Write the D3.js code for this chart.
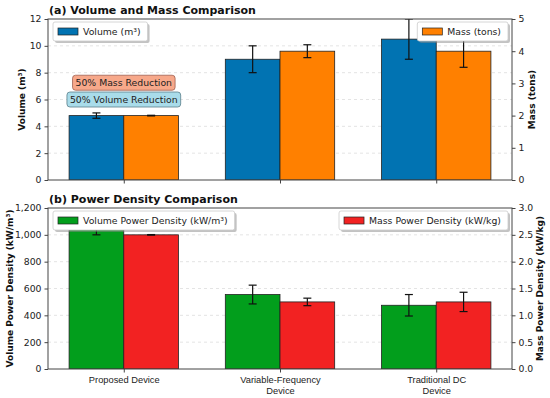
<!DOCTYPE html>
<html>
<head>
<meta charset="utf-8">
<script src="https://cdn.jsdelivr.net/npm/d3@7"></script>
<style>
  body { margin: 0; background: #fff; }
  svg { font-family: "DejaVu Sans", sans-serif; }
</style>
</head>
<body>
<svg width="550" height="398"></svg>
<script>
// data
const categories = [["Proposed Device"], ["Variable-Frequency", "Device"], ["Traditional DC", "Device"]];
const volume = [4.8, 9.0, 10.5];
const volumeErr = [0.2, 1.0, 1.5];
const mass = [2.0, 4.0, 4.0];
const massErr = [0.01, 0.2, 0.5];
const volPower = [1050, 555, 475];
const volPowerErr = [50, 70, 80];
const massPower = [2.5, 1.25, 1.25];
const massPowerErr = [0.005, 0.07, 0.18];
const leftTicksA = [0, 2, 4, 6, 8, 10, 12];
const rightTicksA = [0, 1, 2, 3, 4, 5];
const leftTicksB = [0, 200, 400, 600, 800, 1000, 1200];
const rightTicksB = [0, 0.5, 1.0, 1.5, 2.0, 2.5, 3.0];

const svg = d3.select("svg");
const barW = 0.35;
const fs = 9.3; // base font size
const x = d3.scaleLinear().domain([-0.485, 2.485]).range([48, 512]);

const colors = { blue: "#0173b2", orange: "#ff8000", green: "#029e1c", red: "#f22222" };

function panel(opts) {
    const { top, bottom, title, yr, tl, tr, labL, labR, s1, e1, s2, e2, c1, c2, showX } = opts;
    const yL = d3.scaleLinear().domain([0, tl[tl.length - 1]]).range([bottom, top]);
    const yR = d3.scaleLinear().domain([0, tr[tr.length - 1]]).range([bottom, top]);
    const g = svg.append("g");

    // grid
    g.selectAll(".grid").data(tl.slice(1, -1)).enter().append("line")
        .attr("x1", 48).attr("x2", 512)
        .attr("y1", d => yL(d)).attr("y2", d => yL(d))
        .attr("stroke", "#c8c8c8").attr("stroke-opacity", 0.7)
        .attr("stroke-dasharray", "3,3").attr("stroke-width", 0.7);

    const clip = "clip" + top;
    svg.append("clipPath").attr("id", clip).append("rect")
        .attr("x", 48).attr("y", top).attr("width", 464).attr("height", bottom - top);
    const pg = g.append("g").attr("clip-path", `url(#${clip})`);

    function bars(vals, errs, y, color, off) {
        pg.selectAll(null).data(vals).enter().append("rect")
            .attr("x", (d, i) => x(i + off))
            .attr("y", d => y(d))
            .attr("width", x(barW) - x(0))
            .attr("height", d => bottom - y(d))
            .attr("fill", color).attr("stroke", "#222").attr("stroke-width", 0.8);
        const cx = i => x(i + off + barW / 2);
        vals.forEach((v, i) => {
            const y1 = y(v + errs[i]), y2 = y(v - errs[i]);
            pg.append("line").attr("x1", cx(i)).attr("x2", cx(i)).attr("y1", y1).attr("y2", y2)
                .attr("stroke", "#111").attr("stroke-width", 1.2);
            [y1, y2].forEach(yy => pg.append("line").attr("x1", cx(i) - 4).attr("x2", cx(i) + 4)
                .attr("y1", yy).attr("y2", yy).attr("stroke", "#111").attr("stroke-width", 1.2));
        });
    }
    bars(s1, e1, yL, c1, -barW);
    bars(s2, e2, yR, c2, 0);

    // frame
    g.append("rect").attr("x", 48).attr("y", top).attr("width", 464).attr("height", bottom - top)
        .attr("fill", "none").attr("stroke", "#444").attr("stroke-width", 1);

    // axes
    const axL = d3.axisLeft(yL).tickValues(tl).tickSize(3.5).tickPadding(3);
    const axR = d3.axisRight(yR).tickValues(tr).tickSize(3.5).tickPadding(3)
        .tickFormat(yr === "dec" ? d3.format(".1f") : d3.format("d"));
    const gl = g.append("g").attr("transform", "translate(48,0)").call(axL);
    const gr = g.append("g").attr("transform", "translate(512,0)").call(axR);
    const gx = g.append("g").attr("transform", `translate(0,${bottom})`)
        .call(d3.axisBottom(x).tickValues([0, 1, 2]).tickSize(3.5).tickFormat(""));
    [gl, gr, gx].forEach(a => {
        a.select(".domain").remove();
        a.selectAll("line").attr("stroke", "#444");
        a.selectAll("text").attr("font-size", fs).attr("fill", "#222").attr("font-family", "DejaVu Sans");
    });
    if (showX) {
        gx.selectAll(".tick").each(function (d) {
            const t = d3.select(this).append("text").attr("fill", "#222").attr("font-size", fs)
                .attr("text-anchor", "middle").attr("y", 14);
            categories[d].forEach((line, k) => t.append("tspan").attr("x", 0).attr("dy", k ? 11 : 0).text(line));
        });
    }

    // title
    svg.append("text").attr("x", 49).attr("y", top - 5).attr("font-size", 11)
        .attr("font-weight", "bold").attr("fill", "#111").text(title);

    // axis labels
    [labL, labR].forEach(l => {
        svg.append("text").attr("transform", `translate(${l.x},${(top + bottom) / 2}) rotate(-90)`)
            .attr("text-anchor", "middle").attr("font-size", 9).attr("font-weight", "bold").attr("fill", "#111")
            .text(l.t);
    });

    return { legend: (label, color, side) => legend(label, color, side, top) };
}

function legend(label, color, side, top) {
    const g = svg.append("g");
    const txt = g.append("text").attr("font-size", fs).attr("fill", "#222").text(label);
    const tw = txt.node().getComputedTextLength();
    const w = tw + 37, h = 19;
    const lx = side === "left" ? 53 : 508 - w;
    const ly = top + 3;
    g.insert("rect", "text").attr("x", lx + 2).attr("y", ly + 2).attr("width", w).attr("height", h)
        .attr("rx", 2).attr("fill", "#888").attr("opacity", 0.5);
    g.insert("rect", "text").attr("x", lx).attr("y", ly).attr("width", w).attr("height", h)
        .attr("rx", 2).attr("fill", "#fff").attr("stroke", "#ccc").attr("stroke-width", 0.8);
    g.append("rect").attr("x", lx + 5).attr("y", ly + 6).attr("width", 20).attr("height", 7)
        .attr("fill", color).attr("stroke", "#222").attr("stroke-width", 0.7);
    txt.attr("x", lx + 30).attr("y", ly + 13);
}

const pa = panel({
    top: 19, bottom: 180, title: "(a) Volume and Mass Comparison",
    yr: "int", tl: leftTicksA, tr: rightTicksA,
    labL: { x: 25, t: "Volume (m³)" }, labR: { x: 535, t: "Mass (tons)" },
    s1: volume, e1: volumeErr, s2: mass, e2: massErr, c1: colors.blue, c2: colors.orange, showX: false
});

// annotation boxes over the proposed device
const yA = d3.scaleLinear().domain([0, 12]).range([180, 19]);
const notes = [
    { t: "50% Mass Reduction", y: 7.25, fill: "#f7a88a", stroke: "#a06050" },
    { t: "50% Volume Reduction", y: 6.0, fill: "#a9dcea", stroke: "#5a7f8a" }
];
notes.forEach(n => {
    const g = svg.append("g");
    const t = g.append("text").attr("x", x(0)).attr("y", yA(n.y) + 3.3)
        .attr("text-anchor", "middle").attr("font-size", fs).attr("fill", "#222").text(n.t);
    const b = t.node().getBBox();
    g.insert("rect", "text").attr("x", b.x - 3).attr("y", yA(n.y) - 7.5).attr("width", b.width + 6)
        .attr("height", 15).attr("rx", 3).attr("fill", n.fill).attr("stroke", n.stroke).attr("stroke-width", 0.8);
});

pa.legend("Volume (m³)", colors.blue, "left");
pa.legend("Mass (tons)", colors.orange, "right");

const pb = panel({
    top: 208, bottom: 369, title: "(b) Power Density Comparison",
    yr: "dec", tl: leftTicksB, tr: rightTicksB,
    labL: { x: 13, t: "Volume Power Density (kW/m³)" }, labR: { x: 543, t: "Mass Power Density (kW/kg)" },
    s1: volPower, e1: volPowerErr, s2: massPower, e2: massPowerErr, c1: colors.green, c2: colors.red, showX: true
});
pb.legend("Volume Power Density (kW/m³)", colors.green, "left");
pb.legend("Mass Power Density (kW/kg)", colors.red, "right");
</script>
</body>
</html>
